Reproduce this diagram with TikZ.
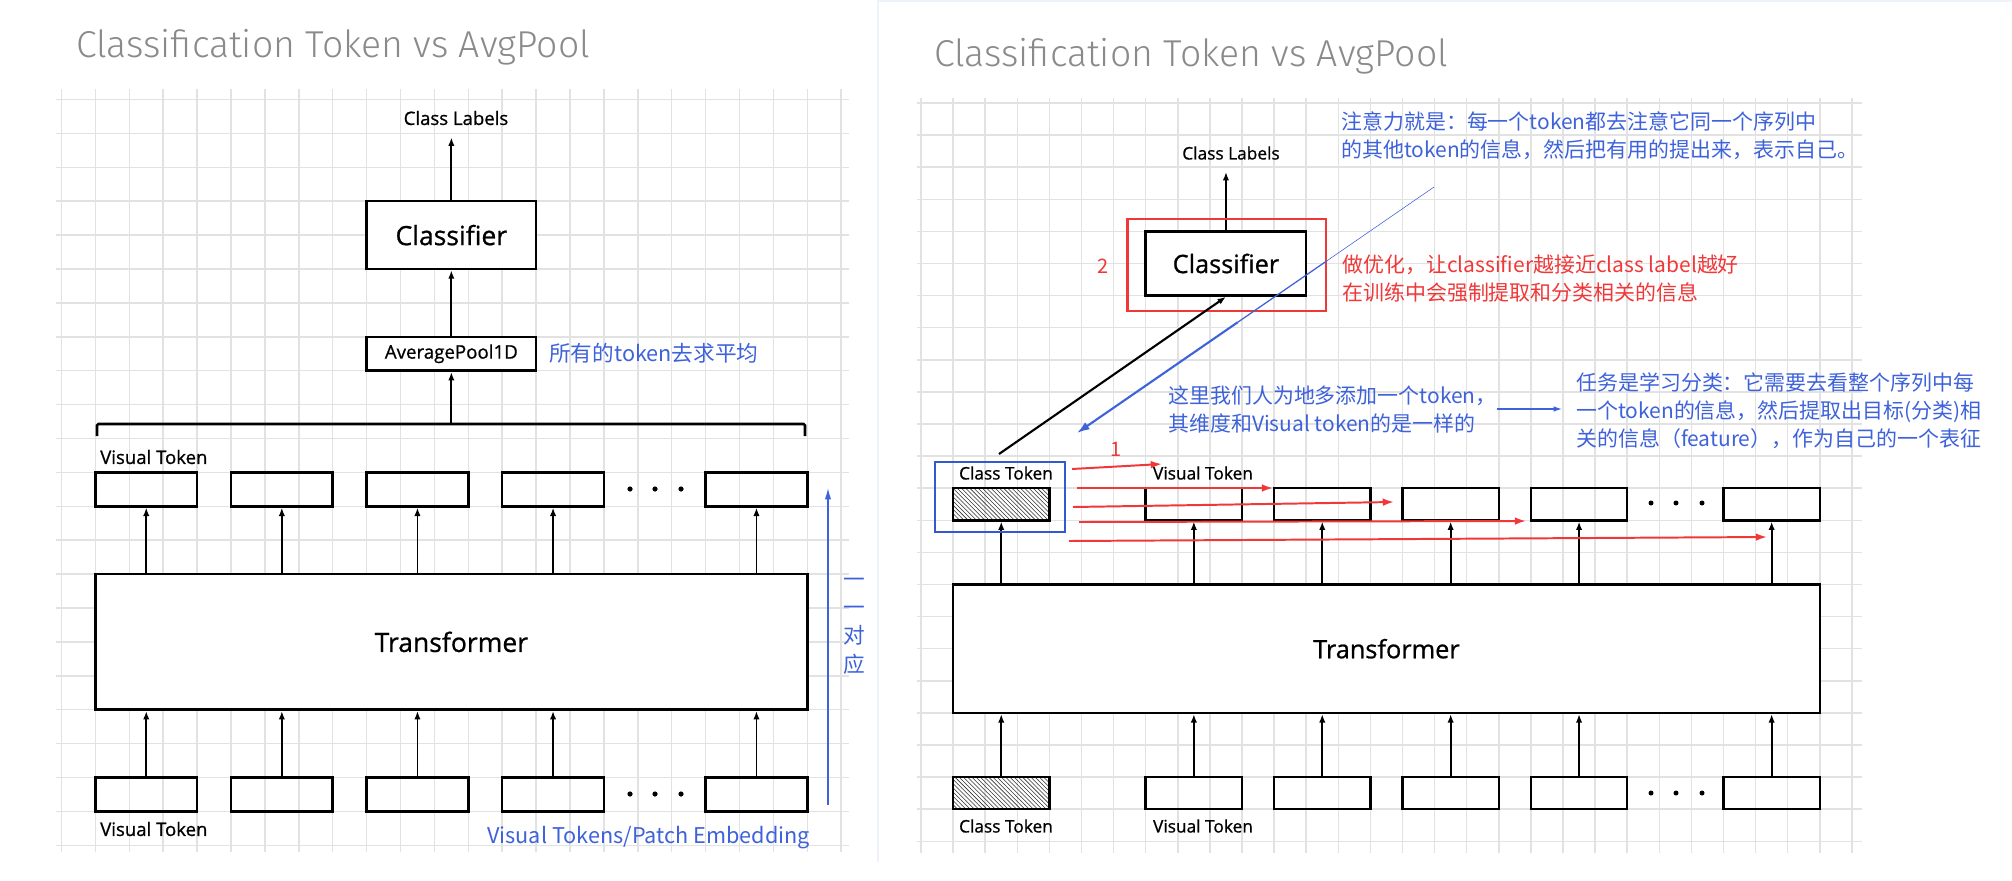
\documentclass[tikz,border=0pt]{standalone}
\usepackage{fontspec}
\setmainfont{Open Sans}[RawFeature={embolden=0.8}]
\newfontfamily\cjk{Noto Sans CJK SC}
\newfontfamily\titlefont{Fira Sans Light}
\usetikzlibrary{arrows.meta,patterns,calc}

\definecolor{gridgray}{RGB}{226,226,226}
\definecolor{noteblue}{RGB}{62,98,218}
\definecolor{boxblue}{RGB}{52,88,212}
\definecolor{markred}{RGB}{240,56,56}
\definecolor{titlegray}{RGB}{138,138,138}
\definecolor{edgeblue}{RGB}{238,243,250}

\tikzset{
	gridline/.style={gridgray, line width=1.1pt},
	boxL/.style={draw, line width=1.8pt, inner sep=0pt},
	boxR/.style={draw, line width=1.7pt, inner sep=0pt},
	bigL/.style={boxL, fill=white, font=\fontsize{18.85pt}{22pt}\selectfont},
	bigR/.style={boxR, fill=white, font=\fontsize{18pt}{21pt}\selectfont},
	tokL/.style={boxL, minimum width=2.543cm, minimum height=0.848cm},
	tokR/.style={boxR, minimum width=2.408cm, minimum height=0.8025cm},
	hatchR/.style={tokR, fill=white, pattern=north west lines, pattern color=black!80},
	lblL/.style={inner sep=0pt, font=\fontsize{13.2pt}{15pt}\selectfont},
	lblR/.style={inner sep=0pt, font=\fontsize{12.3pt}{14pt}\selectfont},
	titletext/.style={inner sep=0pt, titlegray, font=\titlefont\fontsize{26.6pt}{30pt}\selectfont},
	noteL/.style={inner sep=0pt, noteblue, font=\cjk\fontsize{15.4pt}{20.1pt}\selectfont},
	noteR/.style={inner sep=0pt, noteblue, align=left, font=\cjk\fontsize{14.9pt}{19.9pt}\selectfont},
	rednum/.style={inner sep=0pt, markred, font=\cjk\fontsize{14.2pt}{16pt}\selectfont},
	arr/.style={-{Latex[length=6pt,width=4.5pt]}, line width=1.3pt},
	redarr/.style={markred, line width=1.4pt, -{Latex[length=8pt,width=5.5pt]}},
	bluearr/.style={noteblue, line width=1pt, -{Latex[length=8pt,width=4.5pt]}}
}

\begin{document}
\begin{tikzpicture}[x=0.025cm, y=-0.025cm]
	\fill[white] (0,0) rectangle (2012,881);
	\useasboundingbox (0,0) rectangle (2012,881);
	\draw[edgeblue, line width=0.8pt] (878,862) -- (878,1) -- (2012,1);

	% grids
	\foreach \j in {0,...,22} \draw[gridline] (56,99.5+33.9*\j) -- (849,99.5+33.9*\j);
	\foreach \k in {0,...,23} \draw[gridline] (61.5+33.9*\k,89) -- (61.5+33.9*\k,852);
	\foreach \j in {0,...,23} \draw[gridline] (917,103+32.1*\j) -- (1862,103+32.1*\j);
	\foreach \k in {0,...,29} \draw[gridline] (921+32.1*\k,98) -- (921+32.1*\k,853);

	\node[titletext, anchor=base west] (ltitle) at (76,57) {Classification Token vs AvgPool};
	\node[titletext, anchor=base west] (rtitle) at (934,66) {Classification Token vs AvgPool};

	% left: average pooling
	\node[bigL, minimum width=4.238cm, minimum height=1.695cm] (lcls) at (451.35,235.1) {Classifier};
	\node[boxL, fill=white, minimum width=4.238cm, minimum height=0.848cm, font=\fontsize{13.3pt}{15pt}\selectfont] (lavg) at (451.35,353.75) {AveragePool1D};
	\node[lblL] (llab) at (456,118) {Class Labels};
	\draw[arr, shorten >=0.3cm] (lcls.north) -- (lcls.north |- llab.south);
	\draw[arr] (lavg.north) -- (lcls.south);
	\node[noteL, anchor=west] (lavgnote) at (549,353) {所有的token去求平均};

	\node[bigL, minimum width=17.8cm, minimum height=3.39cm] (ltf) at (451.35,641.9) {Transformer};
	\foreach \i/\x in {1/146.25, 2/281.85, 3/417.45, 4/553.05, 5/756.45} {
		\node[tokL] (lt\i) at (\x,489.35) {};
		\node[tokL] (lb\i) at (\x,794.45) {};
		\draw[arr] (ltf.north -| lt\i.south) -- (lt\i.south);
		\draw[arr] (lb\i.north) -- (lb\i.north |- ltf.south);
	}
	\foreach \x in {630,655,681} {
		\fill (\x,489) circle (2.6);
		\fill (\x,794) circle (2.6);
	}
	\coordinate (lbrace) at (451.35,424);
	\draw[line width=1.8pt, rounded corners=1pt] (97,436) -- (97,424) -- (805,424) -- (805,436);
	\draw[arr] (lbrace) -- (lavg.south);
	\node[lblL, anchor=west] (lvttop) at (100,457) {Visual Token};
	\node[lblL, anchor=west] (lvtbot) at (100,829) {Visual Token};

	\node[noteL, anchor=west] (lpatch) at (487,838) {Visual Tokens/Patch Embedding};
	\coordinate (lup0) at (828,805);
	\coordinate (lup1) at (828,488);
	\draw[bluearr] (lup0) -- (lup1);
	\node[noteL, align=center] (lmatch) at (854,626) {一\\一\\对\\应};

	% right: class token
	\node[bigR, minimum width=4.013cm, minimum height=1.605cm] (rcls) at (1225.95,263.5) {Classifier};
	\node[lblR] (rlab) at (1231,153) {Class Labels};
	\draw[arr, shorten >=0.3cm] (rcls.north) -- (rcls.north |- rlab.south);
	\draw[markred, line width=1.5pt] ([shift={(-17,14)}]rcls.south west) rectangle ([shift={(19,-11)}]rcls.north east);
	\node[rednum] (rtwo) at (1103,266) {2};

	\node[bigR, minimum width=21.67cm, minimum height=3.21cm] (rtf) at (1386.45,648.7) {Transformer};
	\node[hatchR] (rct1) at (1001.25,504.25) {};
	\node[hatchR] (rct0) at (1001.25,793.15) {};
	\draw[arr] (rtf.north -| rct1.south) -- (rct1.south);
	\draw[arr] (rct0.north) -- (rct0.north |- rtf.south);
	\foreach \i/\x in {1/1193.85, 2/1322.25, 3/1450.65, 4/1579.05, 5/1771.65} {
		\node[tokR] (rt\i) at (\x,504.25) {};
		\node[tokR] (rb\i) at (\x,793.15) {};
		\draw[arr] (rtf.north -| rt\i.south) -- (rt\i.south);
		\draw[arr] (rb\i.north) -- (rb\i.north |- rtf.south);
	}
	\foreach \x in {1651,1676,1702} {
		\fill (\x,503) circle (2.5);
		\fill (\x,793) circle (2.5);
	}
	\node[lblR] (rcttop) at (1006,473) {Class Token};
	\node[lblR] (rctbot) at (1006,826) {Class Token};
	\node[lblR] (rvttop) at (1203,473) {Visual Token};
	\node[lblR] (rvtbot) at (1203,826) {Visual Token};
	\node[draw=boxblue, line width=1.7pt, inner sep=0pt, minimum width=3.25cm, minimum height=1.75cm] (rctsel) at (1000,497) {};

	% attention from the class token to every token
	\foreach \n/\xa/\ya/\xb/\yb in {1/1072/469/1162/464, 2/1077/488/1273/488, 3/1073/507/1394/502, 4/1079/522/1526/521, 5/1069/541/1767/537} {
		\coordinate (rs\n) at (\xa,\ya);
		\coordinate (re\n) at (\xb,\yb);
		\draw[redarr] (rs\n) -- (re\n);
	}
	\node[rednum] (rone) at (1116,449) {1};

	\coordinate (rctout) at (999,454);
	\draw[arr, line width=1.5pt] (rctout) -- (rcls.south);

	\coordinate (rattn) at (1434,187);
	\coordinate (rattnend) at (1077,433);
	\draw[noteblue, line width=0.4pt] (rattn) -- ($(rattn)!0.3!(rattnend)$);
	\draw[noteblue, line width=0.9pt] ($(rattn)!0.3!(rattnend)$) -- ($(rattn)!0.55!(rattnend)$);
	\draw[noteblue, line width=1.5pt, -{Latex[length=9pt,width=6pt]}] ($(rattn)!0.55!(rattnend)$) -- (rattnend);

	\node[noteR, anchor=west] (rattnnote) at (1341,136) {注意力就是：每一个token都去注意它同一个序列中\\的其他token的信息，然后把有用的提出来，表示自己。};
	\node[noteR, markred, anchor=west] (roptnote) at (1342,279) {做优化，让classifier越接近class label越好\\在训练中会强制提取和分类相关的信息};
	\node[noteR, anchor=west] (raddnote) at (1168,409) {这里我们人为地多添加一个token，\\其维度和Visual token的是一样的};
	\node[noteR, anchor=west] (rtasknote) at (1576,411) {任务是学习分类：它需要去看整个序列中每\\一个token的信息，然后提取出目标(分类)相\\关的信息（feature），作为自己的一个表征};
	\draw[bluearr, line width=0.9pt, -{Latex[length=6pt,width=4pt]}, shorten >=0.35cm] (raddnote.east) -- (raddnote.east -| rtasknote.west);
\end{tikzpicture}
\end{document}
